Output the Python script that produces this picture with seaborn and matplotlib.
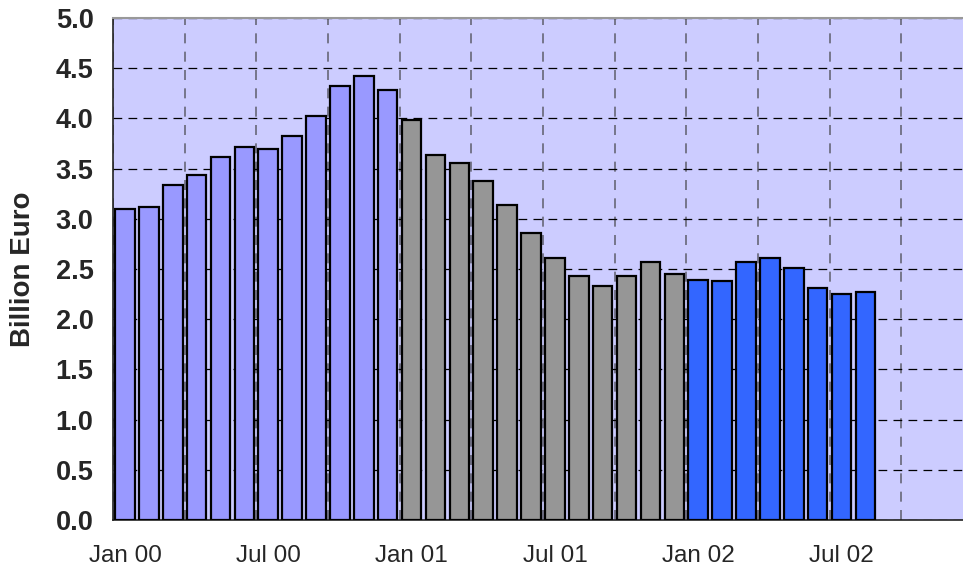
import matplotlib
matplotlib.use("Agg")
import matplotlib.pyplot as plt
import seaborn as sns
import pandas as pd
import numpy as np

months = ["Jan 00", "Feb 00", "Mar 00", "Apr 00", "May 00", "Jun 00", "Jul 00", "Aug 00",
          "Sep 00", "Oct 00", "Nov 00", "Dec 00",
          "Jan 01", "Feb 01", "Mar 01", "Apr 01", "May 01", "Jun 01", "Jul 01", "Aug 01",
          "Sep 01", "Oct 01", "Nov 01", "Dec 01",
          "Jan 02", "Feb 02", "Mar 02", "Apr 02", "May 02", "Jun 02", "Jul 02", "Aug 02"]
values = [3.10, 3.12, 3.34, 3.44, 3.62, 3.72, 3.70, 3.82, 4.02, 4.32, 4.42, 4.28,
          3.98, 3.64, 3.56, 3.38, 3.14, 2.86, 2.61, 2.43, 2.33, 2.43, 2.57, 2.45,
          2.39, 2.38, 2.57, 2.61, 2.51, 2.31, 2.25, 2.27]
years = ["2000"] * 12 + ["2001"] * 12 + ["2002"] * 8
year_colors = {"2000": "#9999FF", "2001": "#969696", "2002": "#3366FF"}
label_months = ["Jan 00", "Jul 00", "Jan 01", "Jul 01", "Jan 02", "Jul 02"]
y_ticks = [0.0, 0.5, 1.0, 1.5, 2.0, 2.5, 3.0, 3.5, 4.0, 4.5, 5.0]

df = pd.DataFrame({"month": months, "value": values, "year": years})

sns.set_style("white")
plt.rcParams["font.family"] = ["Liberation Sans", "DejaVu Sans"]

fig = plt.figure(figsize=(9.63, 5.71), dpi=100)
ax = fig.add_axes([113 / 963, 51 / 571, 1 - 113 / 963, (520 - 18) / 571])
ax.set_facecolor("#CCCCFF")

sns.barplot(data=df, x="month", y="value", hue="year", palette=year_colors,
            saturation=1, dodge=False, width=0.82, edgecolor="black", linewidth=1.6,
            legend=False, ax=ax, zorder=3)

x_right = -0.5 + (963 - 113) / ((949 - 113) / 35)

# major x ticks at quarter boundaries (grid + tick marks), labels on minor ticks
ax.set_xticks(np.arange(-0.5, x_right, 3))
ax.set_xticklabels([])
label_pos = [months.index(m) for m in label_months]
ax.set_xticks(label_pos, minor=True)
ax.set_xticklabels(label_months, minor=True, fontsize=17.5)
ax.tick_params(axis="x", which="major", length=6, width=1.2, color="#777777", direction="out")
ax.tick_params(axis="x", which="minor", length=0, pad=18)
ax.xaxis.grid(True, which="major", linestyle=(0, (6, 5)), color="#666677", linewidth=1.2, zorder=0)

ax.set_yticks(y_ticks)
ax.set_yticklabels([f"{v:.1f}" for v in y_ticks], fontsize=19.5, fontweight="bold")
ax.tick_params(axis="y", length=6, width=1.0, color="black", direction="out", pad=8)
ax.yaxis.grid(True, linestyle=(0, (7, 5)), color="black", linewidth=0.9, zorder=0)
ax.set_axisbelow(True)

ax.set_xlim(-0.5, x_right)
ax.set_ylim(0, 5.0)

ax.set_xlabel("")
ax.set_ylabel("Billion Euro", fontsize=20, fontweight="bold", labelpad=14)

for side in ["left", "bottom"]:
    ax.spines[side].set_color("#222222")
    ax.spines[side].set_linewidth(1.2)
ax.spines["top"].set_color("#999999")
ax.spines["top"].set_linewidth(1.5)
ax.spines["right"].set_visible(False)

fig.savefig("out.png", dpi=100)
